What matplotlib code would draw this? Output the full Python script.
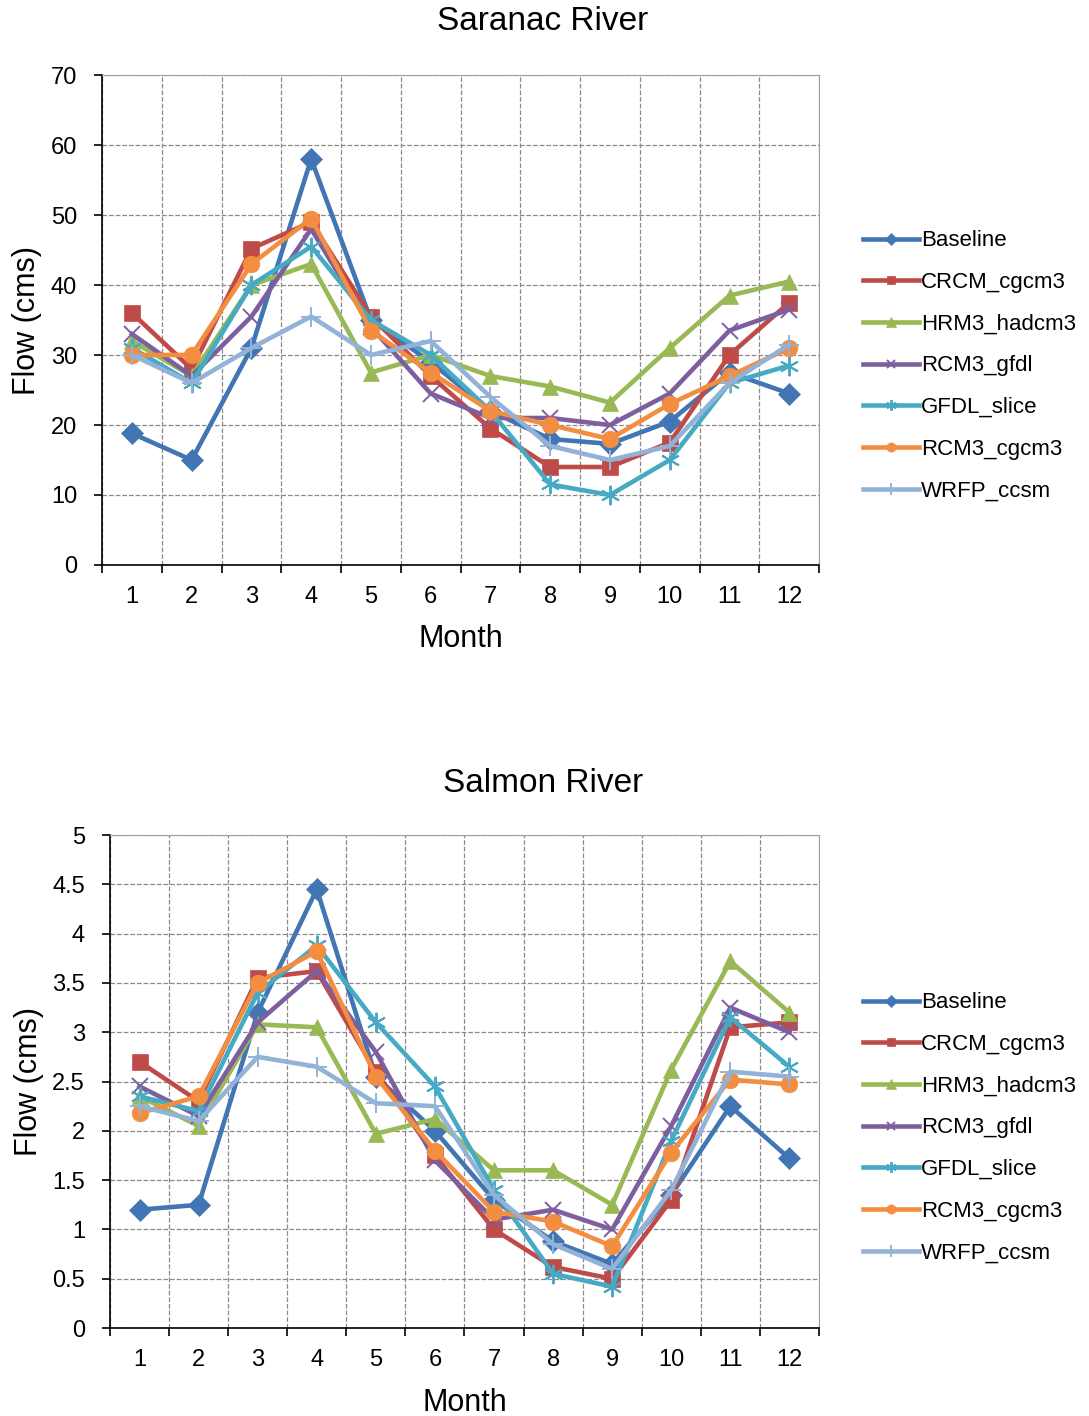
import matplotlib
matplotlib.use("Agg")
from matplotlib import pyplot as plt

plt.rcParams['font.family'] = ['Liberation Sans', 'DejaVu Sans']

months = [1, 2, 3, 4, 5, 6, 7, 8, 9, 10, 11, 12]
names = ['Baseline', 'CRCM_cgcm3', 'HRM3_hadcm3', 'RCM3_gfdl', 'GFDL_slice', 'RCM3_cgcm3', 'WRFP_ccsm']

# Saranac River flows (cms)
saranac_baseline = [18.8, 15.0, 31.0, 58.0, 35.0, 29.0, 22.0, 18.0, 17.3, 20.5, 27.5, 24.5]
saranac_crcm = [36.0, 28.0, 45.2, 49.0, 35.5, 27.0, 19.5, 14.0, 14.0, 17.5, 30.0, 37.5]
saranac_hrm3 = [32.0, 27.0, 40.0, 43.0, 27.5, 30.0, 27.0, 25.5, 23.2, 31.0, 38.5, 40.5]
saranac_rcm3gfdl = [33.0, 27.0, 35.5, 48.0, 34.0, 24.5, 21.0, 21.0, 20.0, 24.5, 33.5, 36.5]
saranac_gfdl = [31.0, 26.0, 40.0, 45.5, 35.0, 30.0, 22.0, 11.5, 10.0, 15.0, 26.0, 28.5]
saranac_rcm3cgcm = [30.0, 30.0, 43.0, 49.5, 33.5, 27.5, 22.0, 20.0, 18.0, 23.0, 27.0, 31.0]
saranac_wrfp = [30.0, 26.0, 31.0, 35.5, 30.0, 32.0, 24.0, 17.0, 15.0, 17.0, 26.0, 31.5]

# Salmon River flows (cms)
salmon_baseline = [1.2, 1.25, 3.2, 4.45, 2.55, 2.0, 1.3, 0.88, 0.65, 1.35, 2.25, 1.72]
salmon_crcm = [2.7, 2.3, 3.55, 3.62, 2.6, 1.75, 1.0, 0.62, 0.5, 1.3, 3.05, 3.1]
salmon_hrm3 = [2.35, 2.05, 3.08, 3.05, 1.97, 2.12, 1.6, 1.6, 1.25, 2.62, 3.72, 3.2]
salmon_rcm3gfdl = [2.45, 2.15, 3.1, 3.62, 2.8, 1.7, 1.1, 1.2, 1.0, 2.05, 3.25, 3.0]
salmon_gfdl = [2.35, 2.2, 3.4, 3.88, 3.1, 2.45, 1.4, 0.55, 0.42, 1.9, 3.15, 2.65]
salmon_rcm3cgcm = [2.18, 2.35, 3.5, 3.82, 2.55, 1.8, 1.18, 1.08, 0.83, 1.78, 2.52, 2.47]
salmon_wrfp = [2.25, 2.1, 2.75, 2.65, 2.28, 2.25, 1.35, 0.85, 0.6, 1.4, 2.6, 2.55]

colors = ['#4275B3', '#BE4B48', '#98B954', '#7D5FA0', '#46AAC5', '#F38D3F', '#93B2D8']
markers = ['D', 's', '^', 'x', (6, 2, 0), 'o', '+']
msizes = [11, 11, 12, 11, 14, 12, 15]


def draw(ax, series, ymax, ystep, title, title_y, legend_y):
    for vals, name, c, m, ms in zip(series, names, colors, markers, msizes):
        thin = m in ('x', '+') or isinstance(m, tuple)
        ax.plot(months, vals, color=c, marker=m, markersize=ms, lw=3.3,
                markeredgewidth=1.4 if thin else 0.5,
                markeredgecolor=c, label=name)
    ax.set_xlim(0.5, 12.5)
    ax.set_ylim(0, ymax)
    yt = [i * ystep for i in range(int(round(ymax / ystep)) + 1)]
    ax.set_yticks(yt)
    ax.set_yticklabels(['%g' % v for v in yt])
    ax.set_xticks([i + 0.5 for i in range(0, 13)])
    ax.set_xticklabels([])
    ax.set_xticks(months, minor=True)
    ax.set_xticklabels([str(m) for m in months], minor=True)
    ax.tick_params(axis='x', which='major', length=6, width=1.2, direction='out')
    ax.tick_params(axis='x', which='minor', length=0, pad=15, labelsize=17)
    ax.tick_params(axis='y', length=6, width=1.2, direction='out', labelsize=17, pad=12)
    ax.grid(True, which='major', linestyle='--', color='#8a8a8a', lw=0.9)
    ax.set_axisbelow(True)
    for s in ['top', 'right']:
        ax.spines[s].set_color('#a0a0a0')
    for s in ['left', 'bottom']:
        ax.spines[s].set_color('black')
        ax.spines[s].set_linewidth(1.2)
    ax.set_xlabel('Month', fontsize=22, labelpad=12)
    ax.set_ylabel('Flow (cms)', fontsize=22, labelpad=6)
    fig.text(0.4986, title_y, title, fontsize=24, ha='center', va='center')
    handles, labels = ax.get_legend_handles_labels()
    fig.legend(handles, labels, loc='center left', bbox_to_anchor=(0.782, legend_y),
               frameon=False, fontsize=16, handlelength=2.55, handletextpad=0.08,
               labelspacing=0.93, markerscale=0.55, borderpad=0)


fig = plt.figure(figsize=(10.89, 14.16), dpi=100)
ax1 = fig.add_axes([0.0937, 0.601, 0.6585, 0.346])
ax2 = fig.add_axes([0.101, 0.0621, 0.651, 0.3482])

draw(ax1, [saranac_baseline, saranac_crcm, saranac_hrm3, saranac_rcm3gfdl,
           saranac_gfdl, saranac_rcm3cgcm, saranac_wrfp], 70, 10, 'Saranac River',
     1 - 22 / 1416, 1 - 366 / 1416)
draw(ax2, [salmon_baseline, salmon_crcm, salmon_hrm3, salmon_rcm3gfdl,
           salmon_gfdl, salmon_rcm3cgcm, salmon_wrfp], 5, 0.5, 'Salmon River',
     1 - 784 / 1416, 1 - 1128 / 1416)

fig.savefig('out.png', dpi=100)
